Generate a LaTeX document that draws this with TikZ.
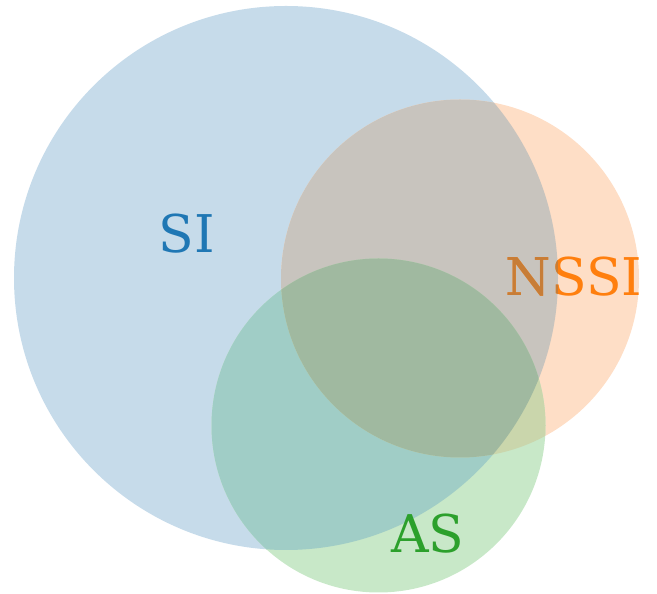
\documentclass[tikz,border=0pt]{standalone}
\usepackage{fontspec}
\setmainfont{DejaVu Serif}
\definecolor{bonly}{RGB}{198,219,234}
\definecolor{oonly}{RGB}{254,222,198}
\definecolor{gonly}{RGB}{200,232,200}
\definecolor{bo}{RGB}{200,196,190}
\definecolor{bg}{RGB}{160,205,198}
\definecolor{og}{RGB}{202,214,172}
\definecolor{bog}{RGB}{160,185,160}
\definecolor{tabblue}{RGB}{31,119,180}
\definecolor{taborange}{RGB}{255,127,14}
\definecolor{taborangedark}{RGB}{199,125,55}
\definecolor{tabgreen}{RGB}{44,160,44}
\begin{document}
\begin{tikzpicture}[x=1pt,y=1pt,
  lbl/.style={font=\fontsize{52}{52}\selectfont, anchor=base, inner sep=0pt}]
\useasboundingbox (0,0) rectangle (657,594);
\def\Bpath{(286,316) circle (272)}
\def\Opath{(460,315.5) circle (179)}
\def\Gpath{(378.5,168.5) circle (167)}
\fill[bonly] \Bpath;
\fill[oonly] \Opath;
\fill[gonly] \Gpath;
\begin{scope}\clip \Bpath; \fill[bo] \Opath; \end{scope}
\begin{scope}\clip \Bpath; \fill[bg] \Gpath; \end{scope}
\begin{scope}\clip \Opath; \fill[og] \Gpath; \end{scope}
\begin{scope}\clip \Bpath; \clip \Opath; \fill[bog] \Gpath; \end{scope}
\node[lbl, text=tabblue] (si) at (187,341) {SI};
\node[lbl, text=taborange] (nssi) at (574,298) {NSSI};
\begin{scope}\clip \Bpath;
\node[lbl, text=taborangedark] (nssib) at (574,298) {NSSI};
\end{scope}
\node[lbl, text=tabgreen] (as) at (428,41) {AS};
\end{tikzpicture}
\end{document}
